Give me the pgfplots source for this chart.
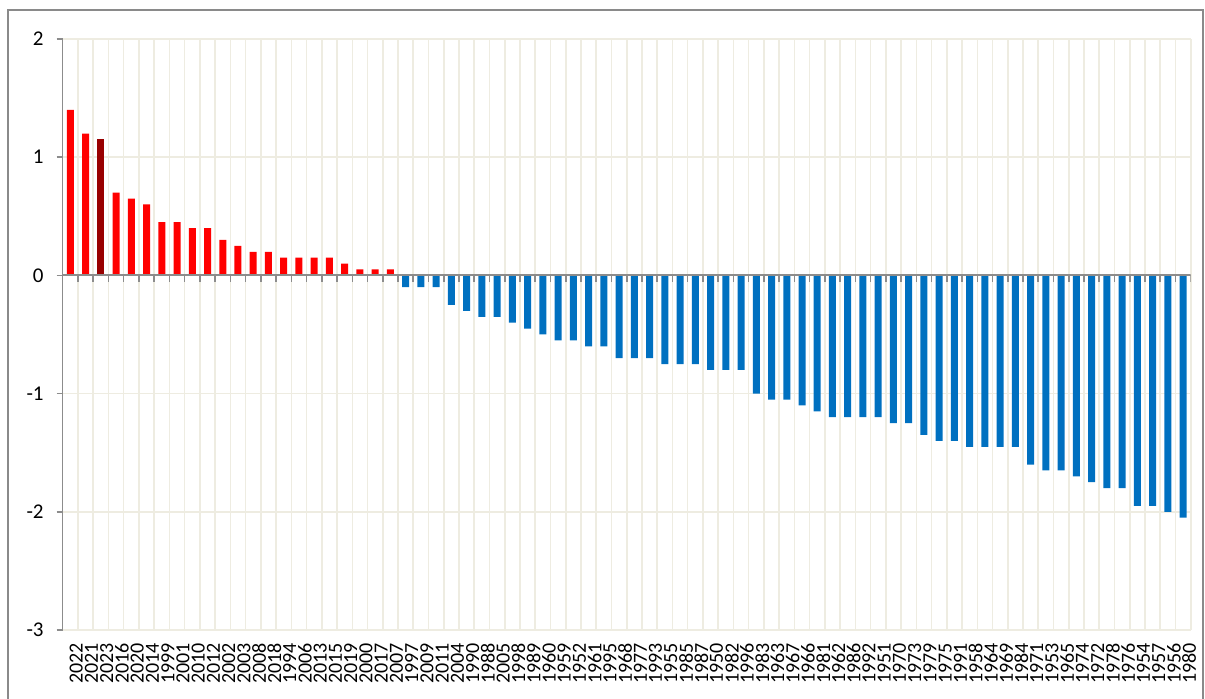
\documentclass[border=0pt]{standalone}
\usepackage{fontspec}
\setmainfont{Carlito}
\usepackage{pgfplots}
\pgfplotsset{compat=1.18}
\definecolor{gridtan}{HTML}{EEECE1}
\definecolor{axgrey}{HTML}{8C8C8C}
\definecolor{framegrey}{HTML}{8A8A8A}
\definecolor{barred}{HTML}{FF0000}
\definecolor{bardark}{HTML}{990000}
\definecolor{barblue}{HTML}{0070C0}

\begin{document}
\begin{tikzpicture}
\useasboundingbox (-31.35pt,-34.5pt) rectangle (571.15pt,315pt);
% chart frame (bottom edge is outside the picture)
\draw[framegrey, line width=0.8pt] (-27.35pt,-40pt) -- (-27.35pt,310pt) -- (570.15pt,310pt) -- (570.15pt,-40pt);
\begin{axis}[
  at={(0,0)}, anchor=south west,
  scale only axis, width=564pt, height=295.5pt,
  xmin=-0.5, xmax=73.5, ymin=-3, ymax=2,
  ybar, bar width=3.5pt, bar shift=0pt,
  axis x line*=bottom, axis y line*=left,
  x axis line style={draw=none},
  y axis line style={axgrey, line width=0.8pt},
  tick align=outside,
  xtick={0,...,73},
  xticklabels={2022,2021,2023,2016,2020,2014,1999,2001,2010,2012,2002,2003,2008,2018,1994,2006,2013,2015,2019,2000,2017,2007,1997,2009,2011,2004,1990,1988,2005,1998,1989,1960,1959,1952,1961,1995,1968,1977,1993,1955,1985,1987,1950,1982,1996,1983,1963,1967,1966,1981,1962,1986,1992,1951,1970,1973,1979,1975,1991,1958,1964,1969,1984,1971,1953,1965,1974,1972,1978,1976,1954,1957,1956,1980},
  major x tick style={draw=none},
  minor xtick={-0.5,0.5,...,73.5},
  minor x tick style={draw=none},
  xminorgrids=true,
  minor x grid style={gridtan, line width=0.8pt},
  ytick={-3,-2,-1,0,1,2},
  yticklabels={-3,-2,-1,0,1,2},
  ymajorgrids=true,
  major y grid style={gridtan, line width=0.8pt},
  y tick style={axgrey, line width=0.8pt},
  major tick length=3pt,
  xticklabel style={rotate=90, anchor=east, font=\fontsize{10}{12}\selectfont, yshift=-3pt},
  yticklabel style={font=\fontsize{10.5}{12}\selectfont, xshift=-3pt},
]
\addplot[fill=barred, draw=none] coordinates {(0,1.4)(1,1.2)(3,0.7)(4,0.65)(5,0.6)(6,0.45)(7,0.45)(8,0.4)(9,0.4)(10,0.3)(11,0.25)(12,0.2)(13,0.2)(14,0.15)(15,0.15)(16,0.15)(17,0.15)(18,0.1)(19,0.05)(20,0.05)(21,0.05)};
\addplot[fill=bardark, draw=none] coordinates {(2,1.15)};
\addplot[fill=barblue, draw=none] coordinates {(22,-0.1)(23,-0.1)(24,-0.1)(25,-0.25)(26,-0.3)(27,-0.35)(28,-0.35)(29,-0.4)(30,-0.45)(31,-0.5)(32,-0.55)(33,-0.55)(34,-0.6)(35,-0.6)(36,-0.7)(37,-0.7)(38,-0.7)(39,-0.75)(40,-0.75)(41,-0.75)(42,-0.8)(43,-0.8)(44,-0.8)(45,-1.0)(46,-1.05)(47,-1.05)(48,-1.1)(49,-1.15)(50,-1.2)(51,-1.2)(52,-1.2)(53,-1.2)(54,-1.25)(55,-1.25)(56,-1.35)(57,-1.4)(58,-1.4)(59,-1.45)(60,-1.45)(61,-1.45)(62,-1.45)(63,-1.6)(64,-1.65)(65,-1.65)(66,-1.7)(67,-1.75)(68,-1.8)(69,-1.8)(70,-1.95)(71,-1.95)(72,-2.0)(73,-2.05)};
% zero line with category ticks
\draw[axgrey, line width=1pt] (axis cs:-0.5,0) -- (axis cs:73.5,0);
\pgfplotsinvokeforeach{-0.5,0.5,...,73.5}{\draw[axgrey, line width=0.8pt] (axis cs:#1,0) -- ([yshift=-3.5pt]axis cs:#1,0);}
\end{axis}
\end{tikzpicture}
\end{document}
